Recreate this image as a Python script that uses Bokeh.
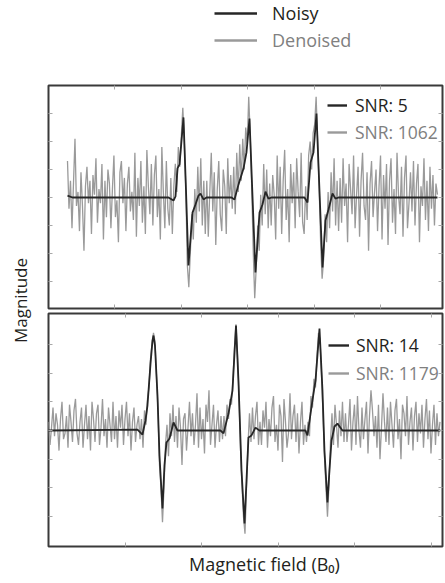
import numpy as np
from math import pi
from bokeh.plotting import figure
from bokeh.models import (Range1d, LinearAxis, FixedTicker, CustomJSTickFormatter,
                          Legend, LegendItem, Label)
from bokeh.core.properties import value
from bokeh.layouts import row, column
from bokeh.embed import file_html
from bokeh.resources import INLINE

# ---------------- data ----------------
# Top panel (SNR 5 / 1062): x in field units, y in magnitude units
top_denoised_x = [0.286, 0.361, 1.807, 1.883, 1.913, 1.943, 1.973, 2.033, 2.071, 2.108,
                  2.169, 2.214, 2.259, 2.289, 2.334, 2.380, 2.756, 2.801, 2.861, 2.937,
                  2.982, 3.027, 3.072, 3.117, 3.178, 3.223, 3.268, 3.313, 3.358, 3.855,
                  3.901, 3.946, 3.991, 4.036, 4.081, 4.127, 4.172, 4.217, 4.277, 4.322,
                  4.367, 5.858]
top_denoised_y = [0.07, 0.0, 0.0, -0.11, 0.04, 1.04, 1.18, 2.86, 0.25, -2.43,
                  -0.54, -0.25, 0.07, 0.14, -0.07, 0.0, 0.0, -0.07, 0.46, 1.04,
                  1.61, 2.82, 0.07, -2.68, -0.54, -0.25, 0.21, -0.04, 0.0, 0.0,
                  -0.18, 1.25, 1.61, 3.0, 0.25, -2.5, -0.82, -0.43, 0.14, -0.04,
                  0.0, 0.0]
top_noisy_start, top_noisy_end = 0.286, 5.858
top_noisy_y = [
    # baseline before first line
    1.3, -0.4, 0.6, -1.1, 0.5, 2.1, -0.3, 0.2, -1.2, 0.9,
    -0.3, -1.9, 0.4, 1.1, -0.2, 0.6, -1.3, 0.8, 0.1, 1.4,
    -0.9, 0.3, -0.2, 1.2, -1.5, 0.6, -0.7, 1.0, 0.5, -1.1,
    0.3, 1.5, -0.7, -0.1, -1.6, 0.9, 1.3, -0.2, 0.7, -1.2,
    0.5, 1.1, -0.5, 0.2, -0.8, 1.6, -1.4, 0.7, -0.3, 1.3,
    -0.9, 0.4, -1.3, 1.7, 0.4, -0.6, 1.2, -1.0, 0.8, 1.5,
    -0.7, 0.3, -1.5, 1.8, 0.2, -1.1, 1.3, -0.4,
    # first line
    -1.0, 0.7, -1.3, 0.4, 1.2, 0.2, 1.8, 1.1, 2.2, 3.2,
    2.0, 0.3, -2.4, -3.2, -2.0, -0.6, -1.5, 0.3, -0.9, 1.1,
    -0.5, 1.4, -1.0, 0.6, -1.3,
    # baseline
    0.6, -1.4, 0.2, 1.6, -0.5, 0.9, -1.7, 0.3, 1.3, -0.6,
    -1.2, 1.0, 0.4, -1.3, 1.4, -0.2,
    # second line
    0.8, -0.4, 1.1, -0.6, 1.6, 0.2, 1.9, 0.6, 2.1, 1.0,
    2.5, 1.9, 3.6, 2.2, 0.4, -1.9, -3.6, -2.5, -1.0, -1.9,
    0.1, -1.0, 1.2, -0.6, 1.0, -1.1, 0.5,
    # baseline
    -1.0, 0.8, 0.1, -1.5, 1.5, -0.4, 1.1, -1.3, 0.6, 1.7,
    -0.8, 0.3, -1.6, 1.2, -0.2, 0.9, -1.1, 1.4, 0.2, -0.7,
    1.6, -0.9,
    # third line
    -1.3, 0.4, -0.8, 1.5, 2.0, 1.0, 2.3, 2.6, 3.6, 2.0,
    0.4, -1.6, -2.9, -2.2, -0.6, -1.6, 0.2, -1.1, 0.9, -0.5,
    1.4, -1.0, 0.6, -1.2,
    # baseline after last line
    0.7, -0.9, 1.4, -0.3, 0.5, -1.6, 1.2, 0.3, -0.6, 1.5,
    -1.1, 0.1, 1.1, -1.4, 0.6, 1.6, -0.3, -0.8, 0.9, -1.9,
    0.5, 1.3, -0.7, 0.2, 1.0, -1.2, 0.4, 1.5, -1.5, 0.8,
    -0.4, 1.2, -1.7, 0.6, 1.4, -0.9, 0.3, -1.3, 1.6, 0.1,
    -0.6, 1.1, -1.4, 0.7, 1.5, -1.1, -0.2, 0.9, -0.5, 1.3,
    -1.0, 0.5, 1.2, -1.6, 0.4, -0.3, 1.4, -0.8, 0.6, -1.2,
    1.1, -0.4, 0.8, -1.0, 0.5, 0.1]

# Bottom panel (SNR 14 / 1179)
bot_denoised_x = [0.0, 1.162, 1.227, 1.266, 1.292, 1.332, 1.358, 1.371, 1.390, 1.423,
                  1.449, 1.488, 1.514, 1.540, 1.580, 1.632, 1.684, 2.245, 2.285, 2.350,
                  2.402, 2.448, 2.480, 2.520, 2.559, 2.585, 2.611, 2.650, 2.702, 2.755,
                  3.355, 3.381, 3.446, 3.486, 3.538, 3.577, 3.603, 3.642, 3.668, 3.695,
                  3.734, 3.773, 3.838, 5.117]
bot_denoised_y = [0.0, 0.03, -0.14, 0.35, 0.87, 2.33, 3.14, 3.31, 2.96, 1.22,
                  -0.87, -2.72, -1.22, -0.42, -0.28, 0.28, 0.0, 0.0, -0.10, 0.59,
                  1.39, 3.66, 1.74, -1.39, -3.24, -1.74, -0.24, -0.17, 0.10, 0.0,
                  0.0, -0.17, 1.05, 1.74, 3.55, 1.39, -0.70, -2.51, -1.39, -0.35,
                  0.14, 0.24, 0.0, 0.0]
bot_noisy_start, bot_noisy_end = 0.0, 5.111
bot_noisy_y = [
    # baseline before first line
    0.3, -0.5, 0.1, 0.8, -0.2, 0.6, 0.2, -0.7, 0.4, 1.0,
    -0.3, -0.1, 0.5, -0.6, 0.9, 0.3, -0.4, 0.7, 1.1, -0.1,
    -0.5, 0.3, 0.8, -0.6, 0.2, 0.9, -0.3, 0.5, -0.7, 1.0,
    0.4, -0.4, 0.6, 0.9, -0.5, 0.1, 1.1, -0.2, 0.4, -0.6,
    0.8, 0.2, -0.4, 1.0, -0.3, 0.5, -0.6, 0.7, 0.1, 0.9,
    -0.5, 0.4, 1.0, -0.2, 0.6, -0.7, 0.3, 0.8, -0.4, 0.2,
    # first line
    0.5, -0.3, 0.4, -0.6, 0.7, 0.2, 1.1, 1.5, 2.5, 3.0,
    3.4, 3.1, 1.9, 0.7, -1.2, -2.0, -3.2, -2.0, -0.5, 0.2,
    -0.9, 0.6, -0.2, 0.9, -0.4, 0.5, -0.6, 0.8, 0.1, -1.2,
    0.4,
    # baseline
    0.6, -0.7, 0.1, 1.0, -0.2, 0.6, -0.5, 0.2, 1.3, -0.6,
    0.8, -0.3, 0.4, -0.8, 0.9, 0.3, 1.4, -0.5, 0.2, 0.9,
    -0.6, 0.2, 0.7, -0.4, 0.5,
    # second line
    -0.3, 0.5, -0.2, 0.9, 0.4, 1.1, 0.9, 1.8, 2.9, 3.7,
    2.6, 1.2, -0.6, -1.9, -3.0, -3.6, -2.0, -0.5, 0.6, -0.4,
    0.8, -0.3, 0.5, 1.0, -0.5, 0.3,
    # baseline
    -0.5, 0.7, 0.1, 1.0, -0.6, 0.4, -0.2, 0.8, 1.2, -0.4,
    0.2, -0.7, 0.9, 0.5, -1.1, 1.1, 0.3, -0.6, -0.1, 1.3,
    -0.3, 0.5, 0.9, -0.4, 0.6, -0.8, 0.3, 1.0, -0.5,
    # third line
    0.2, -0.4, 0.3, -0.2, 1.2, 0.8, 1.8, 1.5, 2.6, 3.4,
    3.2, 2.0, 0.6, -0.9, -2.0, -3.0, -1.9, -0.4, 0.6, -0.5,
    0.9, 0.2, -0.6, 0.7, -0.2, 1.0, -0.4,
    # baseline after last line
    0.6, -0.4, 0.2, 1.1, -0.7, 0.3, 0.9, -0.5, 1.2, 0.0,
    -0.6, 0.8, -0.3, 0.4, 1.0, -0.8, 0.5, 1.4, 0.7, -0.2,
    0.5, -0.6, 0.9, -1.0, 0.1, 1.3, 0.3, -0.4, 0.8, -0.5,
    1.0, 0.2, -0.6, 0.7, 1.1, -0.3, 0.4, -1.0, 0.9, 0.6,
    -0.2, 1.2, -0.5, 0.3, 0.8, -0.7, 0.5, 1.0, -0.4, 0.6,
    -0.1, 0.9, -0.6, 0.4, 1.1, -0.3, 0.7, -0.8, 0.2, 0.9,
    -0.5, 0.6, -0.2, 0.3]

top_xticks = [1, 2, 3, 4, 5]
bot_xticks = [1, 2, 3, 4, 5]
yticks = [-3, -2, -1, 0, 1, 2, 3]
top_legend = ["Noisy", "Denoised"]
top_snr = ["SNR: 5", "SNR: 1062"]
bot_snr = ["SNR: 14", "SNR: 1179"]
x_label = "Magnetic field (B\u2080)"
y_label = "Magnitude"

# ---------------- style ----------------
FONT = "Open Sans"
FS = "18px"
FS_SNR = "17.5px"
BLACK = "#231f20"
DARK_LINE = "#262626"
GRAY_LINE = "#9a9a9a"
GRAY_TEXT = "#808080"
BORDER = "#3a3a3a"
TICK = "#a8a8a8"


def make_panel(height, b_top, b_bottom, xr, yr, xticks):
    p = figure(width=405, height=height, x_range=Range1d(*xr), y_range=Range1d(*yr),
               output_backend="svg", toolbar_location=None,
               x_axis_location=None, y_axis_location=None,
               min_border_left=8, min_border_right=3,
               min_border_top=b_top, min_border_bottom=b_bottom)
    p.grid.grid_line_color = None
    for side in ["left", "right", "above", "below"]:
        ticks = yticks if side in ("left", "right") else xticks
        ax = LinearAxis(ticker=FixedTicker(ticks=ticks),
                        formatter=CustomJSTickFormatter(code="return ''"),
                        major_tick_in=4, major_tick_out=0,
                        minor_tick_in=0, minor_tick_out=0,
                        major_label_standoff=0, major_label_text_font_size="0px",
                        axis_line_color=None, major_tick_line_color=TICK,
                        major_tick_line_width=1)
        p.add_layout(ax, side)
    p.outline_line_color = BORDER
    p.outline_line_width = 2
    p.outline_line_alpha = 1
    return p


def swatches(p):
    # legend-swatch renderers (no visible points), drawn thicker like the reference keys
    nan2 = np.array([np.nan, np.nan])
    rb = p.line(x=nan2, y=nan2, line_color=DARK_LINE, line_width=2.4)
    rg = p.line(x=nan2, y=nan2, line_color=GRAY_LINE, line_width=2.4)
    return rb, rg


def add_legend(p, text, rend, color, loc, gw, standoff, size=FS):
    lg = Legend(items=[LegendItem(label=value(text), renderers=[rend])],
                location=loc, padding=0, margin=0, spacing=0,
                glyph_width=gw, glyph_height=26, label_height=26,
                label_standoff=standoff, label_text_font=FONT,
                label_text_font_size=size, label_text_color=color,
                border_line_color=None, background_fill_alpha=0)
    p.add_layout(lg)


def blank(width, height):
    f = figure(width=width, height=height, output_backend="svg", toolbar_location=None,
               x_range=Range1d(0, 1), y_range=Range1d(0, 1),
               x_axis_location=None, y_axis_location=None, min_border=0)
    f.grid.grid_line_color = None
    f.outline_line_color = None
    return f


# Legend strip (above the panels)
leg = blank(405, 84)
r_lb, r_lg = swatches(leg)
add_legend(leg, top_legend[0], r_lb, BLACK, (166, 58), 43, 15)
add_legend(leg, top_legend[1], r_lg, GRAY_TEXT, (166, 31), 43, 15)

# Top panel
top = make_panel(226, 1, 2, (0, 5.934), (-3.964, 4.0), top_xticks)
tx = np.linspace(top_noisy_start, top_noisy_end, len(top_noisy_y))
top.line(tx, top_noisy_y, line_color=GRAY_LINE, line_width=1.3)
top.line(top_denoised_x, top_denoised_y, line_color=DARK_LINE, line_width=1.8)
k_tb, k_tg = swatches(top)
add_legend(top, top_snr[0], k_tb, BLACK, (279, 190), 20, 8, FS_SNR)
add_legend(top, top_snr[1], k_tg, GRAY_TEXT, (279, 163), 20, 8, FS_SNR)

# Bottom panel
bot = make_panel(238, 3, 2, (0, 5.144), (-4.042, 4.077), bot_xticks)
bx = np.linspace(bot_noisy_start, bot_noisy_end, len(bot_noisy_y))
bot.line(bx, bot_noisy_y, line_color=GRAY_LINE, line_width=1.3)
bot.line(bot_denoised_x, bot_denoised_y, line_color=DARK_LINE, line_width=1.8)
k_bb, k_bg = swatches(bot)
add_legend(bot, bot_snr[0], k_bb, BLACK, (280, 188), 21, 7, FS_SNR)
add_legend(bot, bot_snr[1], k_bg, GRAY_TEXT, (280, 160), 21, 7, FS_SNR)

# x label strip
xlab = blank(405, 35)
xlab.add_layout(Label(x=216, y=20, x_units="screen", y_units="screen", text=x_label,
                      text_align="center", text_baseline="middle", text_font=FONT,
                      text_font_size=FS, text_color=BLACK))

# y label strip
ylab = blank(40, 583)
ylab.add_layout(Label(x=20, y=283, x_units="screen", y_units="screen", text=y_label,
                      angle=pi / 2, text_align="center", text_baseline="middle",
                      text_font=FONT, text_font_size="17px", text_color=BLACK))

layout = row(ylab, column(leg, top, bot, xlab))
open("out.html", "w").write(file_html(layout, INLINE))
